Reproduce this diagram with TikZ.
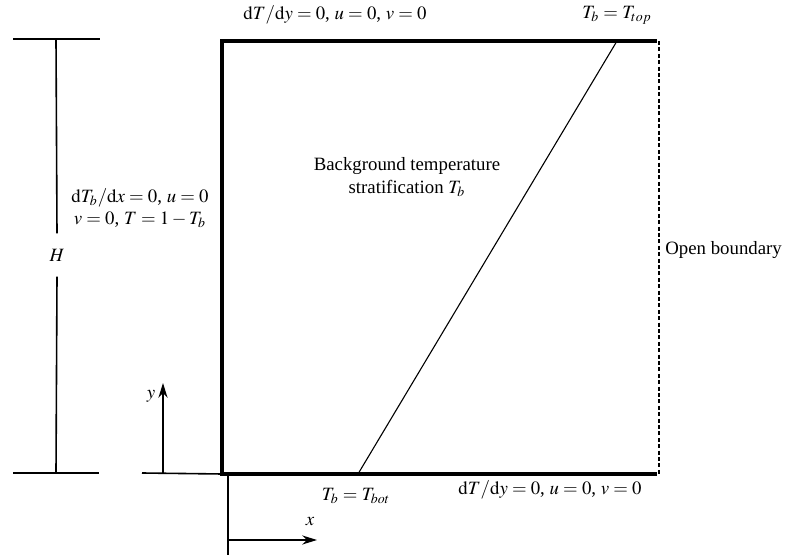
\documentclass[tikz,border=0pt]{standalone}
\usepackage{mathptmx}
\usepackage{fontspec}
\setmainfont{Liberation Serif}
\usepackage{tikz}
\usetikzlibrary{arrows.meta}
\tikzset{
  wall/.style={line width=2pt, line cap=rect},
  openwall/.style={dashed, dash pattern=on 2pt off 1.2pt, line width=0.7pt},
  dimline/.style={line width=0.8pt},
  strat/.style={line width=0.55pt},
  axisarrow/.style={-{Stealth[length=2.6mm,width=1.6mm]}, line width=0.8pt},
  lbl/.style={font=\fontsize{9.4}{11.2}\selectfont, inner sep=0pt, align=center},
}
\newcommand{\dd}{\mathrm{d}}

\begin{document}
\begin{tikzpicture}[x=0.5pt,y=-0.5pt]
    \useasboundingbox (0,0) rectangle (799,555);

    % domain corners
    \coordinate (bl) at (222,474);
    \coordinate (tl) at (222,41);
    \coordinate (tr) at (655,41);
    \coordinate (br) at (655,474);
    \coordinate (otop) at (659,41);
    \coordinate (obot) at (659,474);

    \draw[wall] (tr) -- (tl) -- (bl) -- (br);
    \draw[openwall] (otop) -- (obot);

    % background stratification
    \coordinate (sbot) at (358,474);
    \coordinate (stop) at (617,41);
    \draw[strat] (sbot) -- (stop);

    % height marker
    \coordinate (htopl) at (13,39);
    \coordinate (htopr) at (100,39);
    \coordinate (hbotl) at (13,473);
    \coordinate (hbotr) at (99,473);
    \coordinate (htop) at (56,39);
    \coordinate (hbot) at (56,473);
    \node[lbl, inner ysep=7.6pt] (hlbl) at (57,255) {$H$};
    \draw[dimline] (htopl) -- (htopr);
    \draw[dimline] (hbotl) -- (hbotr);
    \draw[dimline] (htop) -- (hlbl.north);
    \draw[dimline] (hlbl.south) -- (hbot);

    % axes
    \coordinate (yfoot) at (142,473);
    \coordinate (yorig) at (163,473);
    \coordinate (ytip) at (163,383);
    \coordinate (xtop) at (228,474);
    \coordinate (xfoot) at (228,555);
    \coordinate (xorig) at (228,540);
    \coordinate (xtip) at (317,540);
    \draw[dimline] (yfoot) -- (bl);
    \draw[axisarrow] (yorig) -- (ytip);
    \draw[dimline] (xtop) -- (xfoot);
    \draw[axisarrow] (xorig) -- (xtip);
    \node[lbl] (ylbl) at (151,396) {$y$};
    \node[lbl] (xlbl) at (310,522) {$x$};

    % boundary conditions
    \node[lbl] (toplbl) at (335,15) {$\dd T/\dd y = 0$, $u = 0$, $v = 0$};
    \node[lbl] (ttop) at (617,15) {$T_b = T_{top}$};
    \node[lbl] (leftlbl) at (140,208) {$\dd T_b/\dd x = 0$, $u = 0$\\ $v = 0$, $T = 1-T_b$};
    \node[lbl] (stratlbl) at (407,177) {Background temperature\\ stratification $T_b$};
    \node[lbl, anchor=west] (openlbl) at (665,250) {Open boundary};
    \node[lbl] (tbot) at (356,496) {$T_b = T_{bot}$};
    \node[lbl] (botlbl) at (550,490) {$\dd T/\dd y = 0$, $u = 0$, $v = 0$};
  \end{tikzpicture}
\end{document}
